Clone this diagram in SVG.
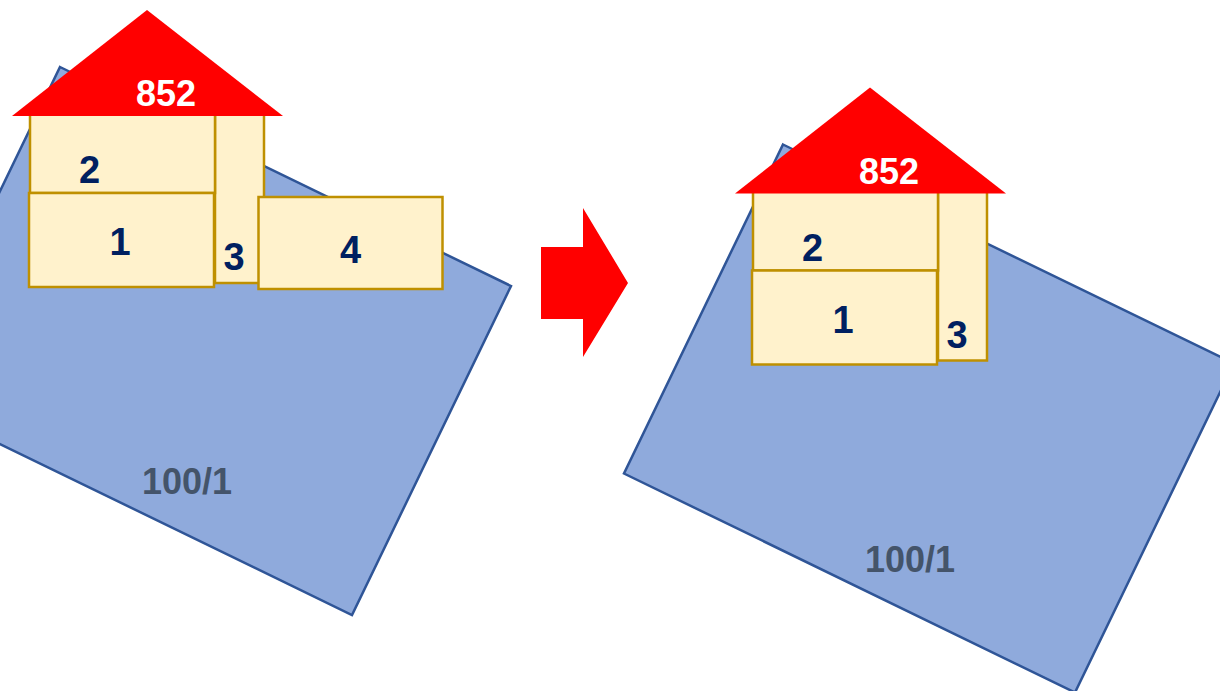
<svg xmlns="http://www.w3.org/2000/svg" width="1220" height="691" viewBox="0 0 1220 691">
<style>
.plot{fill:#8FAADC;stroke:#2F5597;stroke-width:2.5}
.room{fill:#FFF2CC;stroke:#BF9000;stroke-width:2.5}
.roof{fill:#FF0000}
.t{font-family:"Liberation Sans",Arial,sans-serif;font-weight:bold;font-size:36px;text-anchor:middle}
.num{fill:#002060;font-size:38px}
.roofT{fill:#FFFFFF}
.plotT{fill:#44546A}
</style>
<defs>
<g id="house">
<rect class="room" x="215" y="114" width="49" height="169"/>
<rect class="room" x="30" y="114" width="185" height="79"/>
<rect class="room" x="29" y="193" width="185" height="94"/>
<polygon class="roof" points="147,10 283,116 12,116"/>
</g>
</defs>
<g id="left">
<g id="plot-left"><polygon class="plot" points="60,67 511,286 352,615 -99,396"/><text class="t plotT" x="187" y="494">100/1</text></g>
<g id="house-left">
<use href="#house"/>
<g id="room4-left"><rect class="room" x="258.5" y="197" width="184" height="92"/><text class="t num" x="350.5" y="263">4</text></g>
<text class="t roofT" x="166" y="106">852</text>
<text class="t num" x="89.5" y="183">2</text>
<text class="t num" x="120" y="255">1</text>
<text class="t num" x="234" y="270">3</text>
</g>
</g>
<g id="connectors">
<polygon id="arrow" fill="#FF0000" points="541,247 583,247 583,208 628,283 583,357 583,319 541,319"/>
</g>
<g id="right" transform="translate(723,77.5)">
<g id="plot-right"><polygon class="plot" points="60,67 511,286 352,615 -99,396"/><text class="t plotT" x="187" y="494">100/1</text></g>
<g id="house-right">
<use href="#house"/>
<text class="t roofT" x="166" y="106">852</text>
<text class="t num" x="89.5" y="183">2</text>
<text class="t num" x="120" y="255">1</text>
<text class="t num" x="234" y="270">3</text>
</g>
</g>
</svg>
